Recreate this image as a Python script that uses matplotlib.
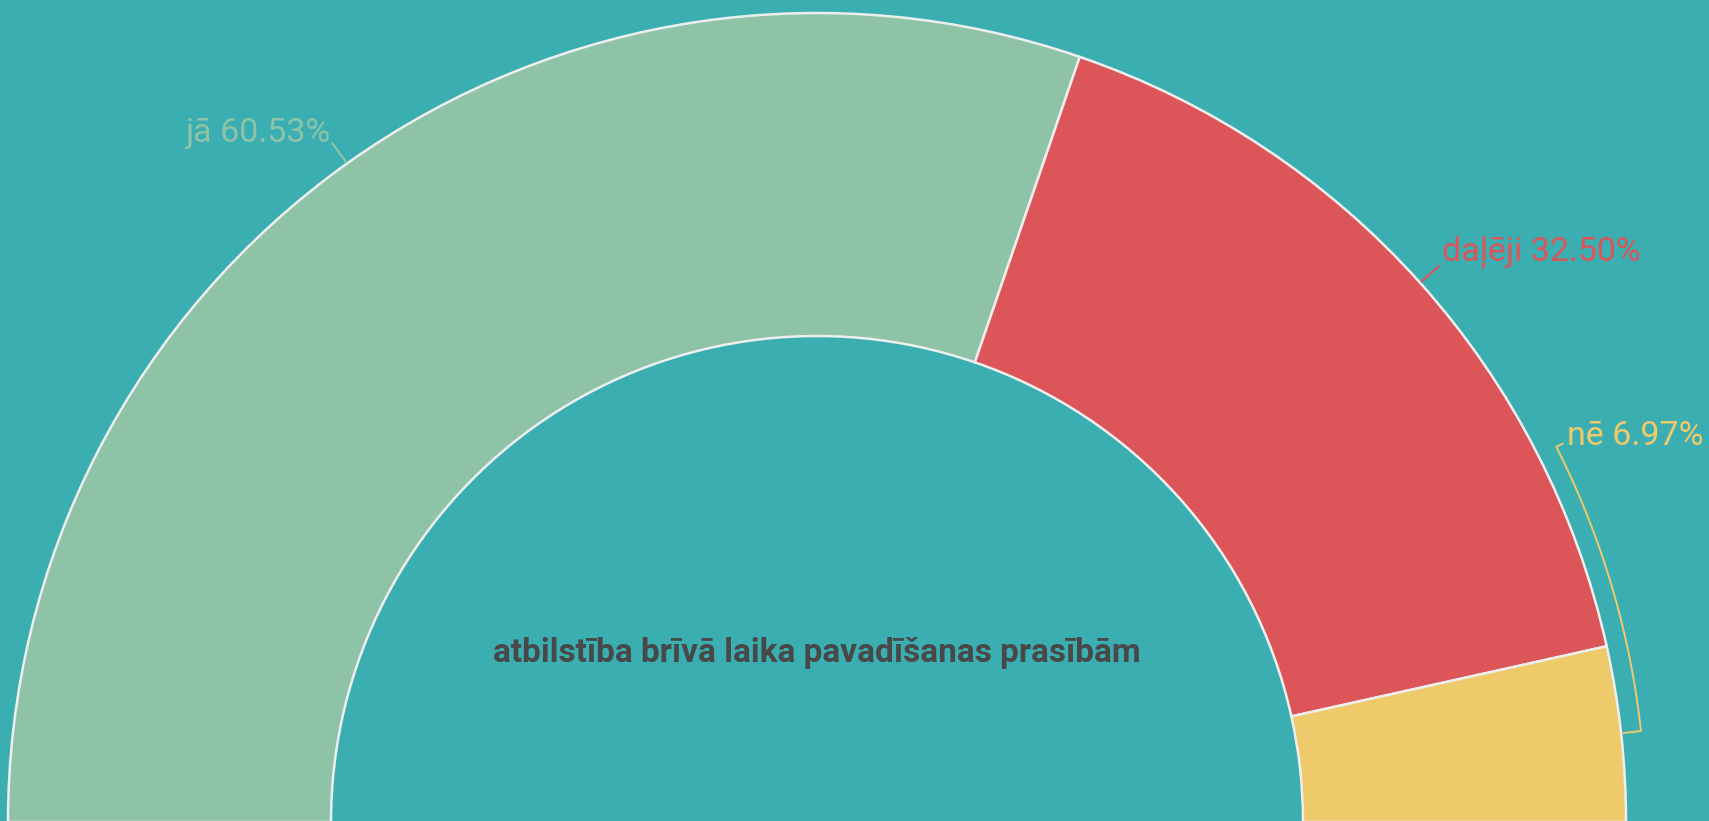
import numpy as np
import matplotlib.pyplot as plt

# data
labels = ["jā", "daļēji", "nē"]
shares = [60.53, 32.50, 6.97]
colors = ["#8ec3a8", "#dc5558", "#eeca6a"]
title = "atbilstība brīvā laika pavadīšanas prasībām"

bg = "#3aaeb1"
plt.rcParams['font.family'] = ['Roboto', 'DejaVu Sans']

fig = plt.figure(figsize=(17.09, 8.21), dpi=100, facecolor=bg)
ax = fig.add_axes([0, 0, 1, 1])
ax.set_facecolor(bg)

cx, cy = 817, -1
R, r_in = 809, 486

# the hidden half makes it a semicircle
wedges, _ = ax.pie(shares + [sum(shares)], colors=colors + ["none"],
                   startangle=180, counterclock=False, center=(cx, cy), radius=R,
                   wedgeprops=dict(width=R - r_in, edgecolor="#eeeeee", linewidth=1.8),
                   frame=True)
wedges[-1].set_visible(False)
ax.set_xlim(0, 1709)
ax.set_ylim(0, 821)
ax.set_aspect('equal')
ax.axis('off')

def pol(rad, ang):
    a = np.deg2rad(ang)
    return cx + rad * np.cos(a), cy + rad * np.sin(a)

fs = 24.5
# jā and daļēji: radial leader at slice middle
for i in range(2):
    w = wedges[i]
    mid = (w.theta1 + w.theta2) / 2
    x0, y0 = pol(R + 1, mid)
    x1, y1 = pol(835, mid)
    ax.plot([x0, x1], [y0, y1], color=colors[i], lw=1.5, solid_capstyle='butt')
    txt = f"{labels[i]} {shares[i]:.2f}%"
    if np.cos(np.deg2rad(mid)) < 0:
        ax.text(x1 - 2, y1 + 9, txt, color=colors[i], fontsize=fs, ha='right', va='center')
    else:
        ax.text(x1 + 2, y1 + 13, txt, color=colors[i], fontsize=fs, ha='left', va='center')

# nē: bracket along the arc
a0, a1 = 6.3, 26.9
t = np.linspace(a0, a1, 100)
bx, by = pol(829, t)
x_lo, y_lo = pol(812, a0)
x_hi, y_hi = pol(836, a1)
ax.plot(np.r_[x_lo, bx, x_hi], np.r_[y_lo, by, y_hi], color=colors[2], lw=1.4)
ax.text(x_hi + 4, y_hi + 8, f"{labels[2]} {shares[2]:.2f}%", color=colors[2],
        fontsize=fs, ha='left', va='center')

ax.text(817, 168, title, color="#484848", fontsize=24, fontweight='bold',
        ha='center', va='center')

fig.savefig("out.png", dpi=100, facecolor=bg)
